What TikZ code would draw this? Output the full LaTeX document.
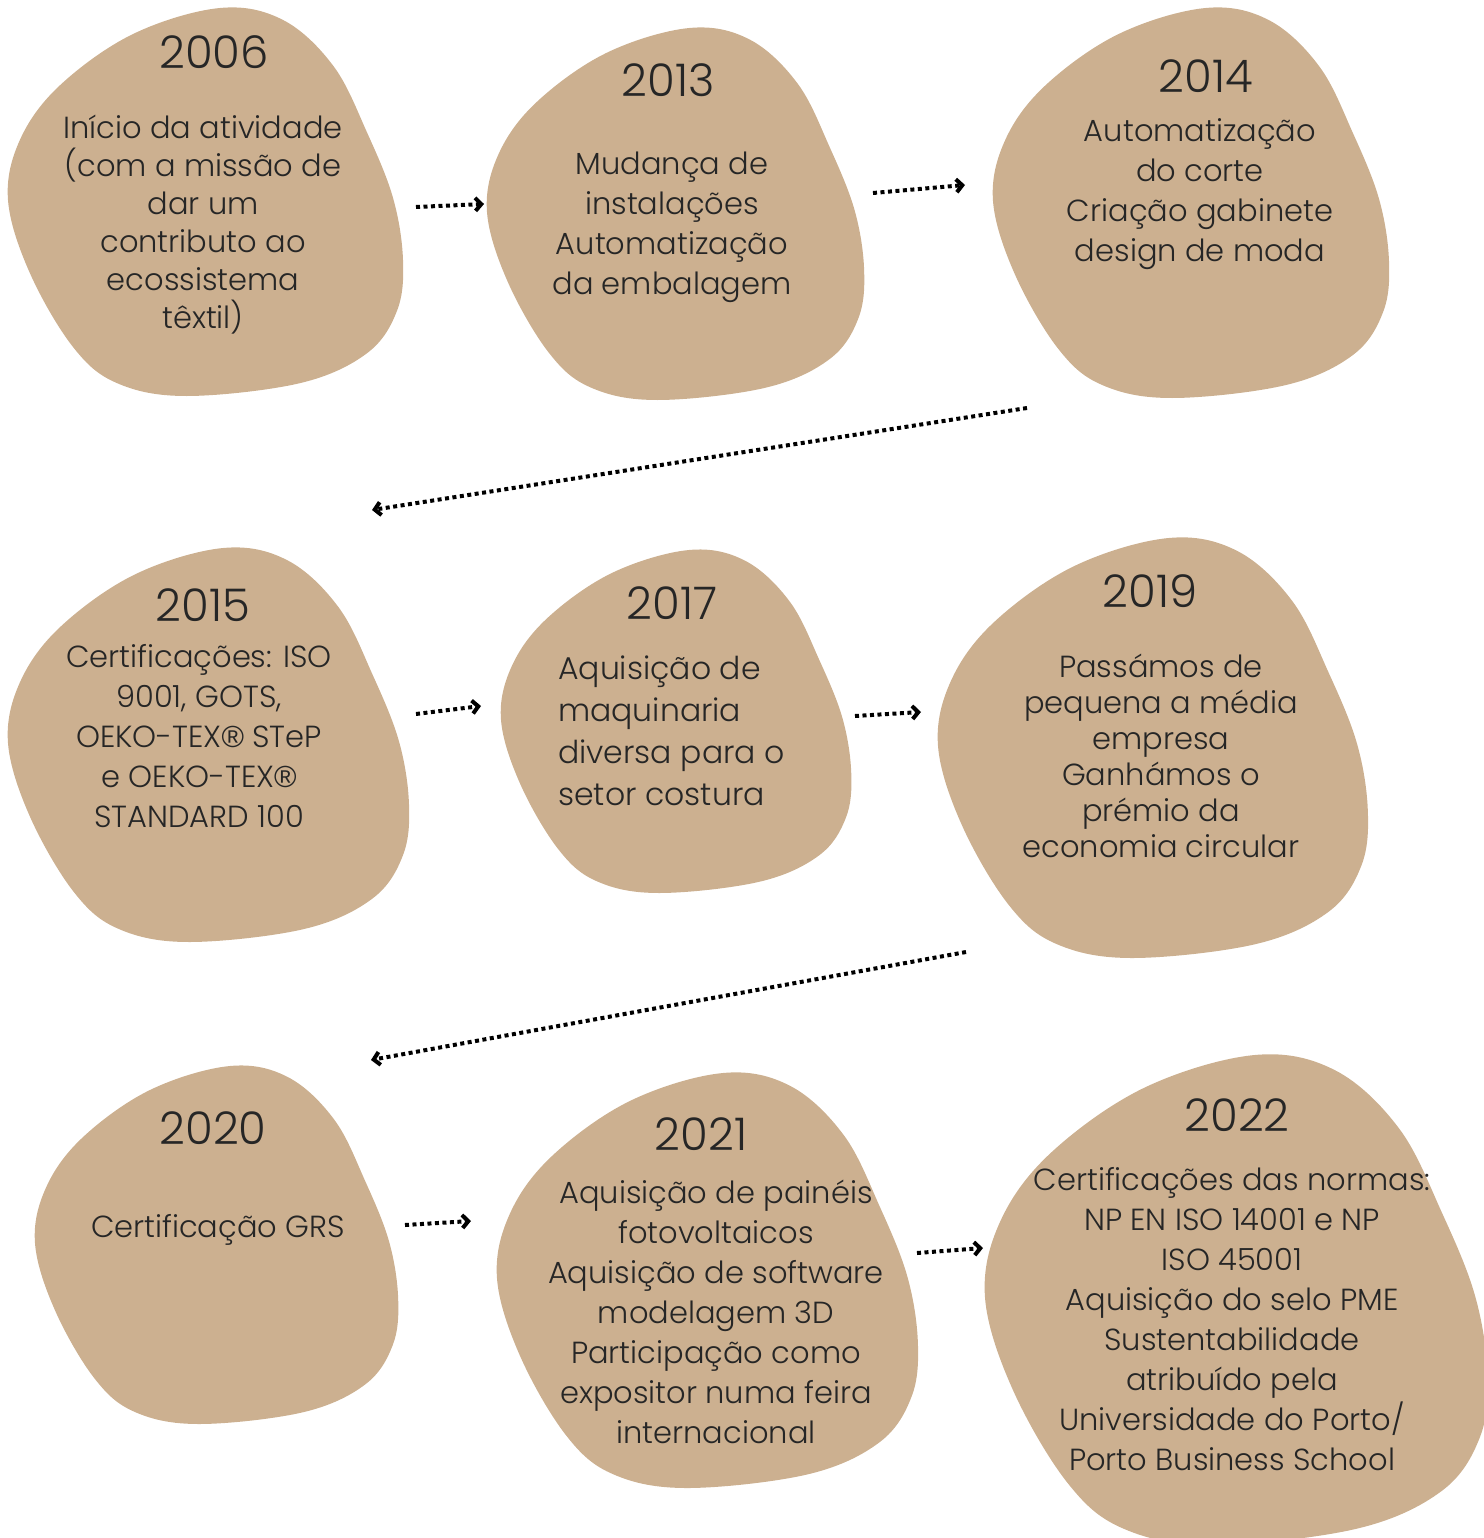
\documentclass[tikz,border=0pt]{standalone}
\usepackage{fontspec}
\IfFontExistsTF{Poppins Light}{\setmainfont{Poppins Light}}{\setmainfont{Poppins}}
\newfontfamily\regfont{Liberation Sans}
\usetikzlibrary{arrows.meta}
\definecolor{sand}{HTML}{CCB090}
\definecolor{ink}{HTML}{262626}
\def\blob(#1,#2)(#3,#4){\fill[blobfill, shift={(#1,#2)}, xscale=#3, yscale=#4] plot[smooth cycle, tension=0.6] coordinates {(0.534,0) (0.693,0.031) (0.82,0.15) (0.904,0.32) (0.97,0.49) (0.995,0.65) (0.98,0.78) (0.904,0.89) (0.735,0.967) (0.45,1.0) (0.275,0.967) (0.164,0.874) (0.055,0.683) (0.0,0.495) (0.03,0.34) (0.13,0.20) (0.315,0.067)};}
\def\reg{{\regfont ®}}
\tikzset{
	blobfill/.style={fill=sand, draw=none},
	yearlabel/.style={text=ink, inner sep=0pt, font=\fontsize{45}{56}\selectfont},
	eventtext/.style={text=ink, inner sep=0pt, align=center, font=\fontsize{30.5}{#1}\selectfont},
	eventtext/.default=40,
	timearrow/.style={line width=4pt, dash pattern=on 4pt off 3.5pt, -{Straight Barb[length=6pt,width=13pt]}}
}

\begin{document}
\begin{tikzpicture}[x=1pt,y=-1pt]
		%%%%% START %%%%%
		\useasboundingbox (0,0) rectangle (1483,1538);
		
		\blob(8,8)(397,388)
		\blob(487,28)(379,372)
		\blob(993,8)(398,390)
		
		\blob(8,548)(403,394)
		\blob(501,550)(352,343)
		\blob(938,538)(432,420)
		
		\blob(35,1066)(365,358)
		\blob(497,1073)(423,415)
		\blob(985,1055)(505,490)
		
		\node[yearlabel] (y2006) at (214,52) {2006};
		\node[eventtext=38] (t2006) at (203,225) {Início da atividade\\(com a missão de\\dar um\\contributo ao\\ecossistema\\têxtil)};
		
		\node[yearlabel] (y2013) at (668,80) {2013};
		\node[eventtext] (t2013) at (672,227) {Mudança de\\instalações\\Automatização\\da embalagem};
		
		\node[yearlabel] (y2014) at (1206,76) {2014};
		\node[eventtext] (t2014) at (1200,194) {Automatização\\do corte\\Criação gabinete\\design de moda};
		
		\node[yearlabel] (y2015) at (203,605) {2015};
		\node[eventtext] (t2015) at (199,736) {Certificações: ISO\\9001, GOTS,\\OEKO-TEX\reg{} STeP\\e OEKO-TEX\reg\\STANDARD 100};
		
		\node[yearlabel] (y2017) at (672,603) {2017};
		\node[eventtext=42, align=left, font=\fontsize{31.5}{42}\selectfont, anchor=west] (t2017) at (558,731) {Aquisição de\\maquinaria\\diversa para o\\setor costura};
		
		\node[yearlabel] (y2019) at (1150,591) {2019};
		\node[eventtext=36] (t2019) at (1161,756) {Passámos de\\pequena a média\\empresa\\Ganhámos o\\prémio da\\economia circular};
		
		\node[yearlabel] (y2020) at (213,1128) {2020};
		\node[eventtext] (t2020) at (218,1230) {Certificação GRS};
		
		\node[yearlabel] (y2021) at (701,1134) {2021};
		\node[eventtext] (t2021) at (716,1312) {Aquisição de painéis\\fotovoltaicos\\Aquisição de software\\modelagem 3D\\Participação como\\expositor numa feira\\internacional};
		
		\node[yearlabel] (y2022) at (1237,1115) {2022};
		\node[eventtext] (t2022) at (1232,1319) {Certificações das normas:\\NP EN ISO 14001 e NP\\ISO 45001\\Aquisição do selo PME\\Sustentabilidade\\atribuído pela\\Universidade do Porto/\\Porto Business School};
		
		% arrow ends
		\coordinate (a1s) at (416,207); \coordinate (a1e) at (484,204);
		\coordinate (a2s) at (873,193); \coordinate (a2e) at (965,185);
		\coordinate (a3s) at (1027,408); \coordinate (a3e) at (372,510);
		\coordinate (a4s) at (416,714); \coordinate (a4e) at (481,706);
		\coordinate (a5s) at (855,716); \coordinate (a5e) at (921,712);
		\coordinate (a6s) at (966,952); \coordinate (a6e) at (371,1060);
		\coordinate (a7s) at (405,1225); \coordinate (a7e) at (471,1221);
		\coordinate (a8s) at (917,1253); \coordinate (a8e) at (983,1248);
		
		\draw[timearrow] (a1s) -- (a1e);
		\draw[timearrow] (a2s) -- (a2e);
		\draw[timearrow] (a3s) -- (a3e);
		\draw[timearrow] (a4s) -- (a4e);
		\draw[timearrow] (a5s) -- (a5e);
		\draw[timearrow] (a6s) -- (a6e);
		\draw[timearrow] (a7s) -- (a7e);
		\draw[timearrow] (a8s) -- (a8e);
		
		%%%%% END %%%%%
\end{tikzpicture}
\end{document}
